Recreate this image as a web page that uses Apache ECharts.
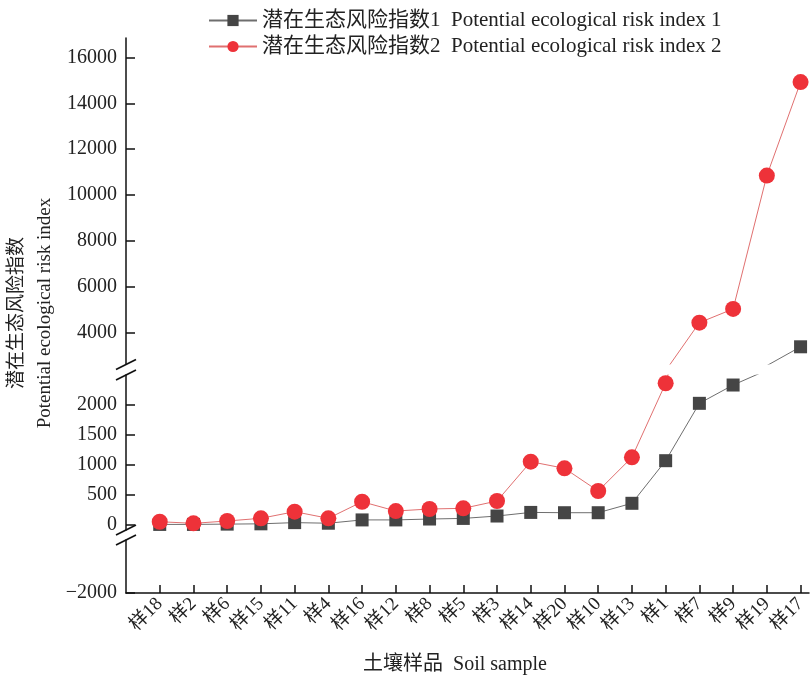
<!DOCTYPE html>
<html>
<head>
<meta charset="utf-8">
<script src="https://cdn.jsdelivr.net/npm/echarts@6/dist/echarts.min.js"></script>
<style>
html,body{margin:0;padding:0;background:#fff;}
#chart{width:811px;height:678px;}
</style>
</head>
<body>
<div id="chart"></div>
<script>
// ---- data ----
const categories = ['样18','样2','样6','样15','样11','样4','样16','样12','样8','样5','样3','样14','样20','样10','样13','样1','样7','样9','样19','样17'];
const risk1 = [10, 10, 15, 20, 40, 30, 85, 85, 100, 110, 150, 210, 205, 205, 362, 1072, 2028, 2333, 2580, 3400];
const risk2 = [55, 28, 67, 112, 222, 112, 388, 233, 267, 278, 400, 1055, 945, 567, 1128, 2362, 4450, 5047, 10850, 14920];
const seriesNames = ['潜在生态风险指数1  Potential ecological risk index 1', '潜在生态风险指数2  Potential ecological risk index 2'];
const topTicks = [4000, 6000, 8000, 10000, 12000, 14000, 16000];
const midTicks = [0, 500, 1000, 1500, 2000];
const lowTicks = [-2000];
const xTitle = '土壤样品  Soil sample';
const yTitle = '潜在生态风险指数\nPotential ecological risk index';

// ---- layout ----
const FONT = "'Liberation Serif', 'Noto Sans CJK SC', serif";
const L = 126, R = 2;
const gTop = {top: 38, h: 326}, gMid = {top: 375, h: 155}, gLow = {top: 540, h: 53};
const catIdx = categories.map((c, i) => i);
const toPairs = arr => arr.map((v, i) => [i, v]);

const chart = echarts.init(document.getElementById('chart'), null, {renderer: 'canvas'});

function yAxisBase(gi, min, max, ticks) {
  return {
    type: 'value', gridIndex: gi, min: min, max: max,
    axisLine: {show: true, onZero: false, lineStyle: {color: '#111', width: 1.5}},
    axisTick: {show: true, inside: true, length: 9, customValues: ticks, lineStyle: {color: '#111', width: 1.5}},
    axisLabel: {customValues: ticks, color: '#222', fontSize: 20, fontFamily: FONT, margin: 9,
      padding: [5, 0, 0, 0],
      formatter: v => String(v).replace('-', '\u2212')},
    splitLine: {show: false}
  };
}
function xAxisBase(gi, show) {
  return {
    type: 'value', gridIndex: gi, min: -1, max: 19.25, show: show,
    axisLine: {show: true, onZero: false, lineStyle: {color: '#111', width: 1.5}},
    axisTick: {show: true, inside: true, length: 8, customValues: catIdx, lineStyle: {color: '#111', width: 1.5}},
    axisLabel: {customValues: catIdx, rotate: 45, margin: 8, color: '#222', fontSize: 19, fontFamily: FONT,
      formatter: v => categories[Math.round(v)] || ''},
    splitLine: {show: false}
  };
}

const s1Style = {
  type: 'line', symbol: 'rect', symbolSize: 13, clip: true,
  itemStyle: {color: '#454545'}, lineStyle: {color: '#6e6e6e', width: 1}
};
const s2Style = {
  type: 'line', symbol: 'circle', symbolSize: 16, clip: true,
  itemStyle: {color: '#ee3239'}, lineStyle: {color: '#e07070', width: 1}
};

const series = [];
[0, 1].forEach(g => {
  series.push(Object.assign({name: seriesNames[0], xAxisIndex: g, yAxisIndex: g, data: toPairs(risk1)}, s1Style));
});
[0, 1].forEach(g => {
  series.push(Object.assign({name: seriesNames[1], xAxisIndex: g, yAxisIndex: g, data: toPairs(risk2)}, s2Style));
});

// break marks
function slash(cx, cy) {
  return {type: 'line', shape: {x1: cx - 10, y1: cy + 5, x2: cx + 10, y2: cy - 5},
    style: {stroke: '#111', lineWidth: 1.6}, z: 100};
}
const breakYs = [gTop.top + gTop.h + 0.5, gMid.top, gMid.top + gMid.h, gLow.top];

const option = {
  animation: false,
  backgroundColor: '#fff',
  grid: [
    {left: L, right: R, top: gTop.top, height: gTop.h},
    {left: L, right: R, top: gMid.top, height: gMid.h},
    {left: L, right: R, top: gLow.top, height: gLow.h}
  ],
  xAxis: [
    xAxisBase(0, false),
    xAxisBase(1, false),
    Object.assign(xAxisBase(2, true), {
      name: xTitle, nameLocation: 'middle', nameGap: 62,
      nameTextStyle: {color: '#222', fontSize: 20, fontFamily: FONT, padding: [0, 25, 0, 0]}
    })
  ],
  yAxis: [
    yAxisBase(0, 2651, 16840, topTicks),
    yAxisBase(1, -83, 2500, midTicks),
    yAxisBase(2, -2000, -1000, lowTicks)
  ],
  legend: {
    orient: 'vertical', left: 203, top: 5, itemWidth: 48, itemHeight: 14, itemGap: 5,
    textStyle: {color: '#222', fontSize: 21, fontFamily: FONT},
    data: seriesNames
  },
  graphic: [
    {
      type: 'text', x: 31, y: 313, rotation: Math.PI / 2,
      style: {text: yTitle, fill: '#222', fontSize: 19, fontFamily: FONT, align: 'center', verticalAlign: 'middle', lineHeight: 28}
    }
  ].concat(breakYs.map(y => slash(L, y))),
  series: series
};
chart.setOption(option);
</script>
</body>
</html>
